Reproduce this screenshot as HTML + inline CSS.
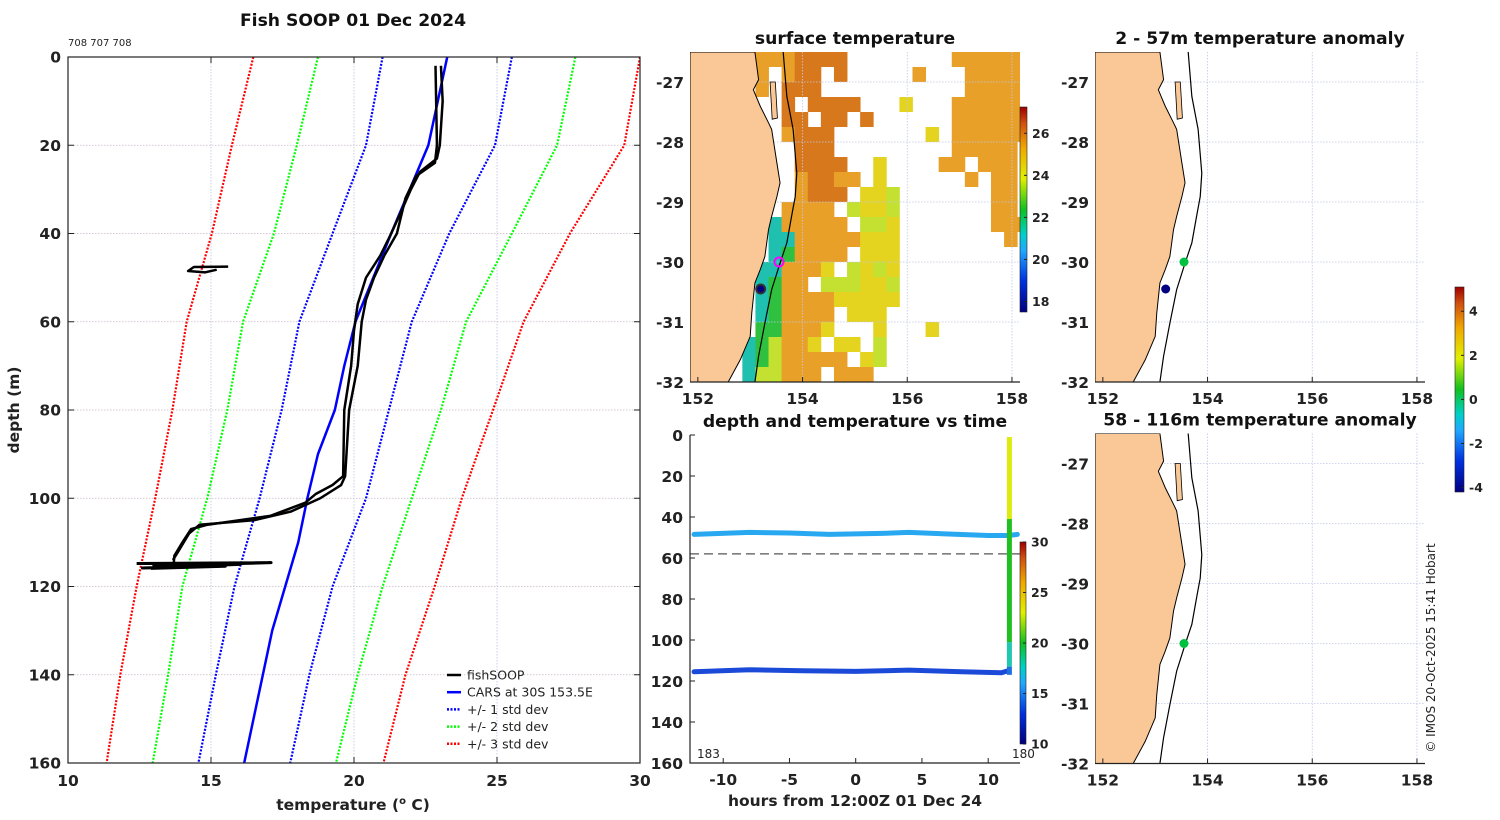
<!DOCTYPE html>
<html><head><meta charset="utf-8"><style>
body{margin:0;background:#fff}
svg{display:block;font-family:"DejaVu Sans","Liberation Sans",sans-serif}
.tl{font-size:15.5px;font-weight:bold;fill:#222}
.ti{font-size:17.2px;font-weight:bold;fill:#111}
</style></head><body>
<svg id="fig" width="1500" height="820" viewBox="0 0 1500 820" xmlns="http://www.w3.org/2000/svg">
<defs>
<linearGradient id="jet" x1="0" y1="1" x2="0" y2="0">
<stop offset="0" stop-color="#000080"/><stop offset="0.15" stop-color="#0030e0"/><stop offset="0.3" stop-color="#20a8ff"/><stop offset="0.38" stop-color="#00d0c8"/><stop offset="0.5" stop-color="#10c020"/><stop offset="0.65" stop-color="#e0f000"/><stop offset="0.8" stop-color="#f0a800"/><stop offset="0.92" stop-color="#d05010"/><stop offset="1" stop-color="#a00000"/>
</linearGradient>
<clipPath id="cMain"><rect x="68" y="57" width="572" height="706"/></clipPath>
<clipPath id="cSst"><rect x="690" y="52" width="330" height="330"/></clipPath>
<clipPath id="cA1"><rect x="1095" y="52" width="330" height="330"/></clipPath>
<clipPath id="cA2"><rect x="1095" y="433.5" width="330" height="330"/></clipPath>
<clipPath id="cTime"><rect x="690" y="435" width="330" height="328"/></clipPath>
</defs>
<g id="root"></g>
</svg>
<script>
// ---- main profile data ----
const sdDepths = [0,20,40,60,80,100,120,140,160];
const sd3Lo = [16.48,15.73,15.03,14.15,13.65,13.05,12.4,11.83,11.35];
const sd2Lo = [18.74,18.0,17.2,16.12,15.57,14.87,14.0,13.5,12.96];
const sd1Lo = [21.0,20.42,19.25,18.09,17.47,16.7,15.82,15.17,14.56];
const sd1Hi = [25.52,24.93,23.33,22.02,21.22,20.42,19.25,18.44,17.77];
const sd2Hi = [27.74,27.1,25.52,23.92,23.04,22.02,21.0,20.13,19.37];
const sd3Hi = [30.0,29.45,27.55,25.93,24.86,23.77,22.82,21.8,21.03];
const carsDepths = [0,20,40,60,70,80,90,100,110,130,160];
const carsTemps = [23.26,22.6,21.3,20.05,19.66,19.33,18.74,18.37,18.05,17.14,16.16];
const castADepths = [2,10,20,23,26,30,35,40,45,50,56,62,70,80,95,97,99,101,104,106,107,110,113,114.5];
const castATemps = [23.04,23.1,23.0,22.9,22.31,21.99,21.65,21.3,20.92,20.42,20.13,20.0,19.9,19.66,19.62,19.25,18.67,18.3,17.07,14.88,14.3,14.0,13.72,13.7];
const castBDepths = [2,20,24,27,32,40,45,50,55,60,70,80,95,97,100,103,105,106,108,112,114];
const castBTemps = [22.85,22.9,22.83,22.17,21.8,21.5,21.06,20.7,20.42,20.27,20.13,19.83,19.69,19.55,18.82,17.8,16.48,14.6,14.23,13.86,13.67];
const blobDeepTemps = [12.4,17.1,13.0,16.0,12.6,15.5,12.9];
const blobDeepDepths = [114.8,114.6,115.3,115.0,115.8,115.4,115.9];
const blobShallowTemps = [15.6,14.4,14.2,14.8,15.2];
const blobShallowDepths = [47.5,47.6,48.5,48.8,48.2];
const tempTicks = [10,15,20,25,30];
const depthTicks = [0,20,40,60,80,100,120,140,160];

// ---- time-depth data ----
const upperHours = [-12.2,-8,-5,-2,2,4,7,10,11.5,12.2];
const upperDepths = [48.5,47.5,47.8,48.5,48,47.5,48.3,49,49,48.5];
const lowerHours = [-12.2,-8,-4,0,4,8,11,11.5];
const lowerDepths = [115.5,114.5,115,115.3,114.7,115.5,116,115];
const hourTicks = [-10,-5,0,5,10];

// ---- map data ----
const lonTicks = [152,154,156,158];
const latTicks = [-27,-28,-29,-30,-31,-32];
const sstRows = [
".....OOODDDD........OOOOOO",
".....O.ODD.D.....O...OOOOO",
".....O.DDD...........OOOOO",
".......D.DDDD...Y...OOOOOO",
".......DD.DD.D......OOOOOO",
".......ODDD.......Y.OOOOOO",
"........DDD.........OOOOO.",
"........DDDD..Y....OO.OOO.",
"........ODDOO.Y......O.OO.",
"........ODDD.YYG.......OO.",
".......OOOO.GYYG.......OO.",
"......COOOOO.GGY.......OOO",
"......CCOOOOOYYY........O.",
"......CgOOOO.YYY..........",
".....CCOOOY.GYGY..........",
".....CgOO.GGGYYG..........",
".....CgOOOOYYYYY..........",
".....CgOOOO.YYY...........",
".....ggOOOY...Y...Y.......",
"....CgGOOY.YY.G...........",
"....CgGOOOOO.YG...........",
"....CGGOOO.OOO............"];
const coastLon = [153.09,153.16,153.06,153.19,153.35,153.41,153.51,153.57,153.51,153.41,153.35,153.28,153.19,153.09,153.03,153.0,152.81,152.58];
const coastLat = [-26.5,-26.96,-27.13,-27.4,-27.68,-27.79,-28.35,-28.68,-28.91,-29.24,-29.46,-29.91,-30.13,-30.35,-30.85,-31.24,-31.63,-32.0];
const shelfLon = [153.63,153.70,153.82,153.89,153.86,153.79,153.70,153.57,153.41,153.28,153.16,153.09];
const shelfLat = [-26.5,-27.24,-27.79,-28.52,-28.91,-29.24,-29.68,-30.02,-30.46,-31.02,-31.57,-32.0];
const stationLon = [153.55,153.2];
const stationLat = [-30.0,-30.45];
const sstColorTicks = [26,24,22,20,18];
const anomColorTicks = [4,2,0,-2,-4];
const timeColorTicks = [30,25,20,15,10];

const NS='http://www.w3.org/2000/svg';
const root=document.getElementById('root');
function mk(tag,attrs,parent){const e=document.createElementNS(NS,tag);for(const k in attrs)e.setAttribute(k,attrs[k]);(parent||root).appendChild(e);return e;}
function txt(x,y,s,cls,anchor,parent){const t=mk('text',{x:x,y:y,'class':cls||'tl','text-anchor':anchor||'middle'},parent);t.textContent=s;return t;}

// main axes
const mx=t=>68+(t-10)*28.6, my=d=>57+d*4.4125;
const gMain=mk('g',{});


tempTicks.slice(1,-1).forEach(t=>{const l=mk('line',{x1:mx(t),x2:mx(t),y1:57,y2:763,stroke:'#b8c4e0','stroke-width':0.8,'stroke-dasharray':'1.5 1.5'},gMain);});
depthTicks.slice(1,-1).forEach(d=>{const l=mk('line',{x1:68,x2:640,y1:my(d),y2:my(d),stroke:'#c8b8c8','stroke-width':0.8,'stroke-dasharray':'1.5 1.5'},gMain);});
function pline(ts,ds,color,w,dash,name,parent){const p=mk('polyline',{points:ts.map((t,i)=>mx(t)+','+my(ds[i])).join(' '),fill:'none',stroke:color,'stroke-width':w,'stroke-dasharray':dash||'none','stroke-linejoin':'round','clip-path':'url(#cMain)'},parent||gMain);return p;}
pline(sd3Lo,sdDepths,'#ff0000',2.2,'2 1.5','std3-low-line');
pline(sd3Hi,sdDepths,'#ff0000',2.2,'2 1.5','std3-high-line');
pline(sd2Lo,sdDepths,'#00ff00',2.2,'2 1.5','std2-low-line');
pline(sd2Hi,sdDepths,'#00ff00',2.2,'2 1.5','std2-high-line');
pline(sd1Lo,sdDepths,'#0000ff',2.2,'2 1.5','std1-low-line');
pline(sd1Hi,sdDepths,'#0000ff',2.2,'2 1.5','std1-high-line');
pline(carsTemps,carsDepths,'#0000ff',2.5,null,'cars-climatology-line');
pline(castATemps,castADepths,'#000',2.5,null,'fishsoop-cast-down');
pline(castBTemps,castBDepths,'#000',2.5,null,'fishsoop-cast-up');
pline(blobDeepTemps,blobDeepDepths,'#000',3,null,'fishsoop-deep-scatter');
pline(blobShallowTemps,blobShallowDepths,'#000',2.5,null,'fishsoop-shallow-scatter');
mk('rect',{x:68,y:57,width:572,height:706,fill:'none',stroke:'#222','stroke-width':1.2},gMain);
tempTicks.forEach(t=>{mk('line',{x1:mx(t),x2:mx(t),y1:763,y2:757,stroke:'#222'},gMain);mk('line',{x1:mx(t),x2:mx(t),y1:57,y2:63,stroke:'#222'},gMain);const l=txt(mx(t),786,String(t),'tl','middle',gMain);});
depthTicks.forEach(d=>{mk('line',{x1:68,x2:74,y1:my(d),y2:my(d),stroke:'#222'},gMain);mk('line',{x1:634,x2:640,y1:my(d),y2:my(d),stroke:'#222'},gMain);const l=txt(61,my(d)+5.5,String(d),'tl','end',gMain);});
const mt=txt(353,26,'Fish SOOP 01 Dec 2024','ti','middle',gMain);
const sub=txt(68,46,'708 707 708','tl','start',gMain);sub.setAttribute('style','font-size:10px;font-weight:normal');
const xl=mk('text',{x:353,y:810,'class':'tl','text-anchor':'middle'},gMain);xl.innerHTML='temperature (<tspan dy="-6" font-size="10">o</tspan><tspan dy="6"> C)</tspan>';
const yl=txt(0,0,'depth (m)','tl','middle',gMain);yl.setAttribute('transform','translate(19,410) rotate(-90)');
// legend
const legItems=[['fishSOOP','#000',null],['CARS at 30S 153.5E','#0000ff',null],['+/- 1 std dev','#0000ff','2 1.5'],['+/- 2 std dev','#00ff00','2 1.5'],['+/- 3 std dev','#ff0000','2 1.5']];
const gLeg=mk('g',{},gMain);
legItems.forEach((it,i)=>{const y=675+i*17.2;const g=mk('g',{},gLeg);mk('line',{x1:447,x2:461,y1:y,y2:y,stroke:it[1],'stroke-width':2.5,'stroke-dasharray':it[2]||'none'},g);const t=txt(467,y+4.5,it[0],'tl','start',g);t.setAttribute('style','font-size:12.5px;font-weight:normal');});

// maps
function drawMap(x0,y0,clip,name,title,showSst,dots){
  const lx=lon=>x0+(lon-151.85)*52.35, ly=lat=>y0+(-26.5-lat)*60;
  const g=mk('g',{});
  const gc=mk('g',{'clip-path':'url(#'+clip+')'},g);
  if(showSst){const col={D:'#d8781c',O:'#e8a028',Y:'#e4d420',G:'#c4e030',C:'#20c0b0',g:'#30c040'};
    sstRows.forEach((row,j)=>{for(let i=0;i<row.length;i++){const c=row[i];if(c==='.')continue;const r=mk('rect',{x:lx(151.85+i*0.25),y:ly(-26.5-j*0.25),width:13.5,height:15,fill:col[c]},gc);}});}
  lonTicks.slice(1).forEach(l=>mk('line',{x1:lx(l),x2:lx(l),y1:y0,y2:y0+330,stroke:'#c0c8e8','stroke-width':0.8,'stroke-dasharray':'1.5 1.5'},gc));
  latTicks.slice(0,-1).forEach(l=>mk('line',{x1:x0,x2:x0+330,y1:ly(l),y2:ly(l),stroke:'#c0c8e8','stroke-width':0.8,'stroke-dasharray':'1.5 1.5'},gc));
  let pts=coastLon.map((l,i)=>lx(l)+','+ly(coastLat[i]));pts.push(lx(151.85)+','+ly(-32),lx(151.85)+','+ly(-26.5));
  const land=mk('polygon',{points:pts.join(' '),fill:'#f9c896',stroke:'#000','stroke-width':1},gc);
  mk('polygon',{points:[[153.38,-27.0],[153.48,-27.0],[153.52,-27.6],[153.42,-27.62]].map(p=>lx(p[0])+','+ly(p[1])).join(' '),fill:'#f9c896',stroke:'#000','stroke-width':0.8},gc);
  const sh=mk('polyline',{points:shelfLon.map((l,i)=>lx(l)+','+ly(shelfLat[i])).join(' '),fill:'none',stroke:'#000','stroke-width':1.2},gc);
  dots.forEach(d=>{const c=mk('circle',{cx:lx(stationLon[d[0]]),cy:ly(stationLat[d[0]]),r:d[2]||4.5,fill:d[1],stroke:d[3]||'none','stroke-width':2},gc);});
  mk('line',{x1:x0,x2:x0+330,y1:y0+330,y2:y0+330,stroke:'#222','stroke-width':1.2},g);
  lonTicks.forEach(l=>{mk('line',{x1:lx(l),x2:lx(l),y1:y0+330,y2:y0+325,stroke:'#222'},g);const t=txt(lx(l),y0+352,String(l),'tl','middle',g);});
  latTicks.forEach(l=>{const t=txt(x0-6,ly(l)+6,String(l),'tl','end',g);});
  const tt=txt(x0+165,y0-8,title,'ti','middle',g);
}
drawMap(690,52,'cSst','surface-temperature-map','surface temperature',true,[[1,'#000080',4.5,'#333'],[0,'none',4.5,'#ff00ff']]);
drawMap(1095,52,'cA1','anomaly-map-shallow','2 - 57m temperature anomaly',false,[[0,'#00c040',4.5],[1,'#000080',4.5]]);
drawMap(1095,433.5,'cA2','anomaly-map-deep','58 - 116m temperature anomaly',false,[[0,'#00c040',4.5]]);

function colorbar(x,y0,y1,w,vmin,vmax,ticks,name){
  const g=mk('g',{});
  mk('rect',{x:x,y:y0,width:w,height:y1-y0,fill:'url(#jet)',stroke:'#222','stroke-width':0.6},g);
  const cy=v=>y1-(v-vmin)/(vmax-vmin)*(y1-y0);
  ticks.forEach(v=>{mk('line',{x1:x+w-3,x2:x+w,y1:cy(v),y2:cy(v),stroke:'#222'},g);const t=txt(x+w+5,cy(v)+4.5,String(v),'tl','start',g);t.setAttribute('style','font-size:12.5px');});
}
colorbar(1020,107,312,7,17.5,27.25,sstColorTicks,'sst-colorbar');
colorbar(1455,287,492,9,-4.2,5.1,anomColorTicks,'anomaly-colorbar');
colorbar(1020,542,744,6,10,30,timeColorTicks,'time-colorbar');

// time-depth chart
const tx=h=>855.7+h*13.25, ty=d=>435+d*2.05;
const gT=mk('g',{});
const gTc=mk('g',{'clip-path':'url(#cTime)'},gT);
const dl=mk('line',{x1:690,x2:1020,y1:ty(58),y2:ty(58),stroke:'#555','stroke-width':1.3,'stroke-dasharray':'9 5'},gTc);
const up=mk('polyline',{points:upperHours.map((h,i)=>tx(h)+','+ty(upperDepths[i])).join(' '),fill:'none',stroke:'#28a8f0','stroke-width':5,'stroke-linecap':'round'},gTc);
const lo=mk('polyline',{points:lowerHours.map((h,i)=>tx(h)+','+ty(lowerDepths[i])).join(' '),fill:'none',stroke:'#1c4ad8','stroke-width':5,'stroke-linecap':'round'},gTc);
const vx=tx(11.6);
[[0,40,'#dcec10'],[40,100,'#20c020'],[100,112,'#20c8b0'],[112,116,'#2070e0']].forEach(s=>{const r=mk('rect',{x:vx-2.5,y:ty(s[0]+1),width:5,height:(s[1]-s[0])*2.05,fill:s[2]},gTc);});
mk('polyline',{points:'690,435 690,763 1020,763',fill:'none',stroke:'#222','stroke-width':1.2},gT);
depthTicks.forEach(d=>{mk('line',{x1:690,x2:695,y1:ty(d),y2:ty(d),stroke:'#222'},gT);const t=txt(683,ty(d)+6,String(d),'tl','end',gT);});
hourTicks.forEach(h=>{mk('line',{x1:tx(h),x2:tx(h),y1:763,y2:758,stroke:'#222'},gT);const t=txt(tx(h),785,String(h),'tl','middle',gT);});
const t1=txt(697,758,'183','tl','start',gT);t1.setAttribute('style','font-size:12px;font-weight:normal');
const t2=txt(1012,758,'180','tl','start',gT);t2.setAttribute('style','font-size:12px;font-weight:normal');
const tt=txt(855,427,'depth and temperature vs time','ti','middle',gT);
const tx2=txt(855,806,'hours from 12:00Z 01 Dec 24','tl','middle',gT);

const cr=txt(0,0,'© IMOS 20-Oct-2025 15:41 Hobart','tl','middle');
cr.setAttribute('style','font-size:12px;font-weight:normal');
cr.setAttribute('transform','translate(1435,648) rotate(-90)');


</script>
</body></html>
